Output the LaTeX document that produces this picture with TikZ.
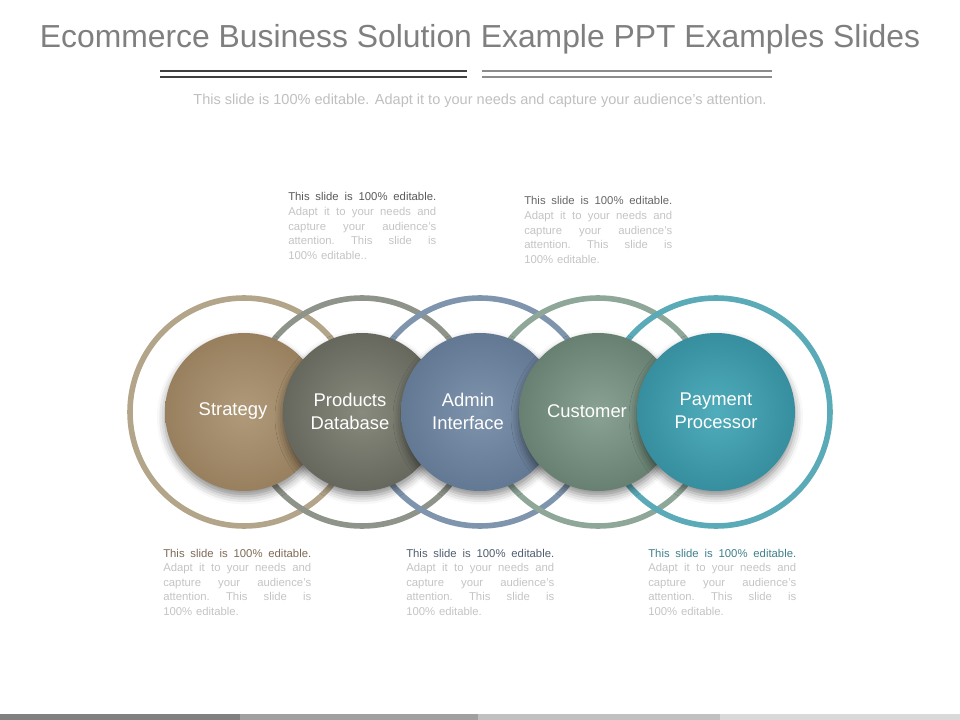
\documentclass[tikz,border=0pt]{standalone}
\usepackage{fontspec}
\setmainfont{Liberation Sans}
\usetikzlibrary{shadows.blur}
\definecolor{titlegray}{HTML}{7F7F7F}
\definecolor{subgray}{HTML}{BFBFBF}
\definecolor{bodygray}{HTML}{C4C4C4}
\definecolor{hlineA}{HTML}{404040}
\definecolor{hlineB}{HTML}{8C8C8C}
\definecolor{ringA}{HTML}{B3A58A}
\definecolor{ringB}{HTML}{8F948A}
\definecolor{ringC}{HTML}{7E95AD}
\definecolor{ringD}{HTML}{8FA799}
\definecolor{ringE}{HTML}{5AAAB8}
\definecolor{discAin}{HTML}{B09A7A}
\definecolor{discAout}{HTML}{98805F}
\definecolor{discBin}{HTML}{878A7C}
\definecolor{discBout}{HTML}{66685E}
\definecolor{discCin}{HTML}{7E93AC}
\definecolor{discCout}{HTML}{637893}
\definecolor{discDin}{HTML}{89A293}
\definecolor{discDout}{HTML}{678071}
\definecolor{discEin}{HTML}{50ADBB}
\definecolor{discEout}{HTML}{368E9E}
\definecolor{headA}{HTML}{595959}
\definecolor{headB}{HTML}{666666}
\definecolor{headC}{HTML}{7D6A55}
\definecolor{headD}{HTML}{4F5E6E}
\definecolor{headE}{HTML}{3F7F8A}
\definecolor{barA}{HTML}{808080}
\definecolor{barB}{HTML}{A0A0A0}
\definecolor{barC}{HTML}{C0C0C0}
\definecolor{barD}{HTML}{D9D9D9}
\newcommand{\jline}[1]{{\spaceskip=0pt\xspaceskip=0pt\frenchspacing\makebox[111pt][s]{#1}}}
\newcommand{\tblk}[2]{{\color{#1}\jline{This slide is 100\% editable.}}\\
\jline{Adapt it to your needs and}\\
\jline{capture your audience's}\\
\jline{attention. This slide is}\\
100\% editable.#2}
\tikzset{
  ring/.style={line width=4.2pt},
  disc/.style={circle, minimum size=118.5pt, inner sep=0pt,
    blur shadow={shadow xshift=0pt, shadow yshift=-4pt, shadow blur radius=6pt, shadow opacity=45}},
  disctext/.style={text=white, align=center, font=\fontsize{13.8}{17.2}\selectfont},
  blk/.style={anchor=base west, inner sep=0pt, text width=111pt, align=left,
    font=\fontsize{8.5}{10.9}\selectfont, text=bodygray},
  hline/.style={line width=1.6pt},
}
\begin{document}
\begin{tikzpicture}[x=0.75pt, y=-0.75pt]
\useasboundingbox (0,0) rectangle (960,720);
% title
\node[anchor=base, text=titlegray, font=\fontsize{23.9}{28}\selectfont, inner sep=0] (title) at (480,48) {Ecommerce Business Solution Example PPT Examples Slides};
\coordinate (la1) at (160,71); \coordinate (la2) at (467,71);
\coordinate (lb1) at (160,77); \coordinate (lb2) at (467,77);
\coordinate (lc1) at (482,71); \coordinate (lc2) at (772,71);
\coordinate (ld1) at (482,77); \coordinate (ld2) at (772,77);
\draw[hline, hlineA] (la1) -- (la2);
\draw[hline, hlineA] (lb1) -- (lb2);
\draw[hline, hlineB] (lc1) -- (lc2);
\draw[hline, hlineB] (ld1) -- (ld2);
\node[anchor=base, text=subgray, font=\fontsize{10.9}{13}\selectfont, inner sep=0] (sub) at (480,105) {This slide is 100\% editable. Adapt it to your needs and capture your audience's attention.};
% centres
\coordinate (c1) at (244,412);
\coordinate (c2) at (362,412);
\coordinate (c3) at (480,412);
\coordinate (c4) at (598,412);
\coordinate (c5) at (716,412);
% rings
\draw[ring, ringA] (c1) circle[radius=114];
\draw[ring, ringB] (c2) circle[radius=114];
\draw[ring, ringC] (c3) circle[radius=114];
\draw[ring, ringD] (c4) circle[radius=114];
\draw[ring, ringE] (c5) circle[radius=114];
% discs
\node[disc, inner color=discAin, outer color=discAout] (d1) at (c1) {};
\node[disc, inner color=discBin, outer color=discBout] (d2) at (c2) {};
\node[disc, inner color=discCin, outer color=discCout] (d3) at (c3) {};
\node[disc, inner color=discDin, outer color=discDout] (d4) at (c4) {};
\node[disc, inner color=discEin, outer color=discEout] (d5) at (c5) {};
\node[disctext] (t1) at (233,411) {Strategy};
\node[disctext] (t2) at (350,411) {Products\\Database};
\node[disctext] (t3) at (468,411) {Admin\\Interface};
\node[disctext] (t4) at (587,411) {Customer};
\node[disctext] (t5) at (716,411) {Payment\\Processor};
% text blocks
\node[blk] (b1) at (288,201) {\tblk{headA}{.}};
\node[blk] (b2) at (524,205) {\tblk{headB}{}};
\node[blk] (b3) at (163,557) {\tblk{headC}{}};
\node[blk] (b4) at (406,557) {\tblk{headD}{}};
\node[blk] (b5) at (648,557) {\tblk{headE}{}};
% bottom bar
\fill[barA] (0,714) rectangle (240,720);
\fill[barB] (240,714) rectangle (478,720);
\fill[barC] (478,714) rectangle (720,720);
\fill[barD] (720,714) rectangle (960,720);
\end{tikzpicture}
\end{document}
